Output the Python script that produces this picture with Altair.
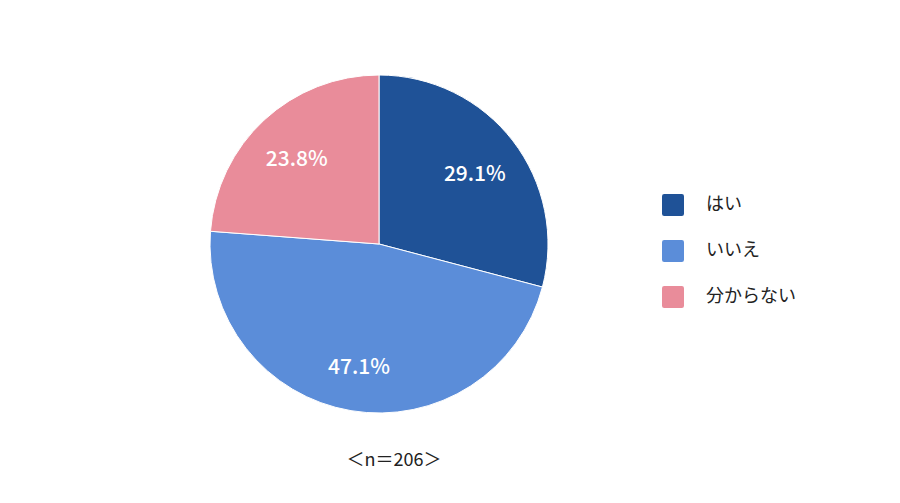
import altair as alt
import pandas as pd

categories = ["はい", "いいえ", "分からない"]
values = [29.1, 47.1, 23.8]
colors = ["#1F5297", "#5B8DD9", "#E98C9A"]
caption = ["＜n＝206＞"]

df = pd.DataFrame({"cat": categories, "val": values, "order": [0, 1, 2]})
df["label"] = [f"{v:.1f}%" for v in values]

FONT = "Noto Sans CJK JP"
cx, cy = 371, 236

rounded = "M -0.8 -1 H 0.8 Q 1 -1 1 -0.8 V 0.8 Q 1 1 0.8 1 H -0.8 Q -1 1 -1 0.8 V -0.8 Q -1 -1 -0.8 -1 Z"

base = alt.Chart(df).encode(
    theta=alt.Theta("val:Q", stack=True),
    order=alt.Order("order:Q"),
)

pie = base.mark_arc(outerRadius=169, stroke="white", strokeWidth=1).encode(
    x=alt.value(cx), y=alt.value(cy),
    color=alt.Color(
        "cat:N",
        scale=alt.Scale(domain=categories, range=colors),
        legend=alt.Legend(
            title=None, orient="none", legendX=654, legendY=186,
            symbolType=rounded, symbolSize=484, symbolStrokeWidth=0,
            labelFont=FONT, labelFontSize=18, labelColor="#222222",
            labelOffset=22, rowPadding=24, padding=0,
        ),
    ),
)

labels = base.mark_text(
    radius=121, dy=5, font=FONT, fontSize=21, fontWeight=500, color="white",
    baseline="middle", align="center"
).encode(x=alt.value(cx), y=alt.value(cy), text="label:N")

cap = alt.Chart(pd.DataFrame({"t": caption})).mark_text(
    font=FONT, fontSize=18, color="#222222", baseline="middle"
).encode(x=alt.value(386), y=alt.value(453), text="t:N")

chart = alt.layer(pie, labels, cap).properties(
    width=884, height=487, autosize=alt.AutoSizeParams(type="none"), padding=0
).configure(background="white").configure_view(stroke=None)

chart.save("out.html", embed_options={"renderer": "svg", "actions": False})
